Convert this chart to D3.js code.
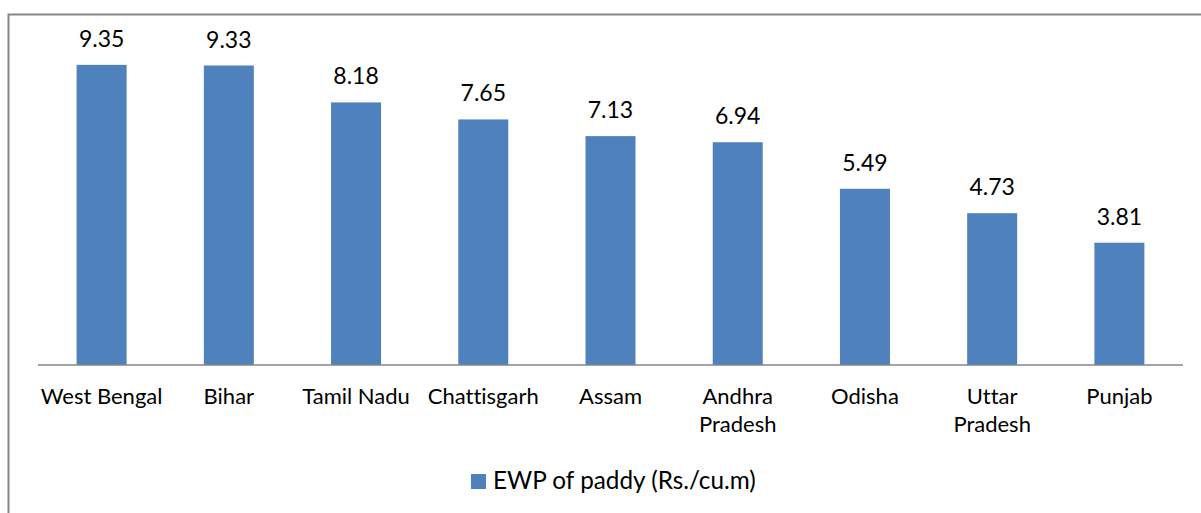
<!DOCTYPE html>
<html><head><meta charset="utf-8">
<script src="https://cdn.jsdelivr.net/npm/d3@7"></script>
<style>body{margin:0;background:#fff}svg{display:block}text{font-family:Lato,"Open Sans",sans-serif;fill:#000;font-variant-ligatures:none;font-feature-settings:"liga" 0}</style>
</head><body>
<script>
const categories = ["West Bengal","Bihar","Tamil Nadu","Chattisgarh","Assam","Andhra Pradesh","Odisha","Uttar Pradesh","Punjab"];
const labelLines = [["West Bengal"],["Bihar"],["Tamil Nadu"],["Chattisgarh"],["Assam"],["Andhra","Pradesh"],["Odisha"],["Uttar","Pradesh"],["Punjab"]];
const values = [9.35,9.33,8.18,7.65,7.13,6.94,5.49,4.73,3.81];
const seriesName = "EWP of paddy (Rs./cu.m)";

const W = 1201, H = 513;
const svg = d3.select("body").append("svg").attr("width", W).attr("height", H);
svg.append("rect").attr("x", 8.5).attr("y", 14.5).attr("width", 1300).attr("height", 600)
  .attr("fill", "none").attr("stroke", "#868686").attr("stroke-width", 2);

const x = d3.scaleBand().domain(categories).range([38, 1183]).paddingInner(0.607).paddingOuter(0.3035);
const y = d3.scaleLinear().domain([0, 10]).range([365, 44]);

svg.selectAll("rect.bar").data(values).enter().append("rect").attr("class","bar")
  .attr("x", (d,i) => x(categories[i])).attr("width", x.bandwidth())
  .attr("y", d => y(d)).attr("height", d => y(0) - y(d)).attr("fill", "#4F81BD");

svg.append("line").attr("x1", 38).attr("x2", 1183).attr("y1", 365).attr("y2", 365)
  .attr("stroke", "#868686").attr("stroke-width", 1.5);

svg.selectAll("text.val").data(values).enter().append("text").attr("class","val")
  .attr("x", (d,i) => x(categories[i]) + x.bandwidth()/2).attr("y", d => y(d) - 18)
  .attr("text-anchor", "middle").attr("font-size", 23).text(d => d.toFixed(2));

const g = svg.selectAll("text.cat").data(labelLines).enter().append("text").attr("class","cat")
  .attr("text-anchor", "middle").attr("font-size", 22)
  .attr("x", (d,i) => x(categories[i]) + x.bandwidth()/2);
g.selectAll("tspan").data((d,i) => d.map(s => ({s, i}))).enter().append("tspan")
  .attr("x", d => x(categories[d.i]) + x.bandwidth()/2)
  .attr("y", (d,j) => 404 + j*28).text(d => d.s);

svg.append("rect").attr("x", 471).attr("y", 474).attr("width", 15).attr("height", 15).attr("fill", "#4F81BD");
svg.append("text").attr("x", 493).attr("y", 489).attr("font-size", 24.3).text(seriesName);
</script>
</body></html>
